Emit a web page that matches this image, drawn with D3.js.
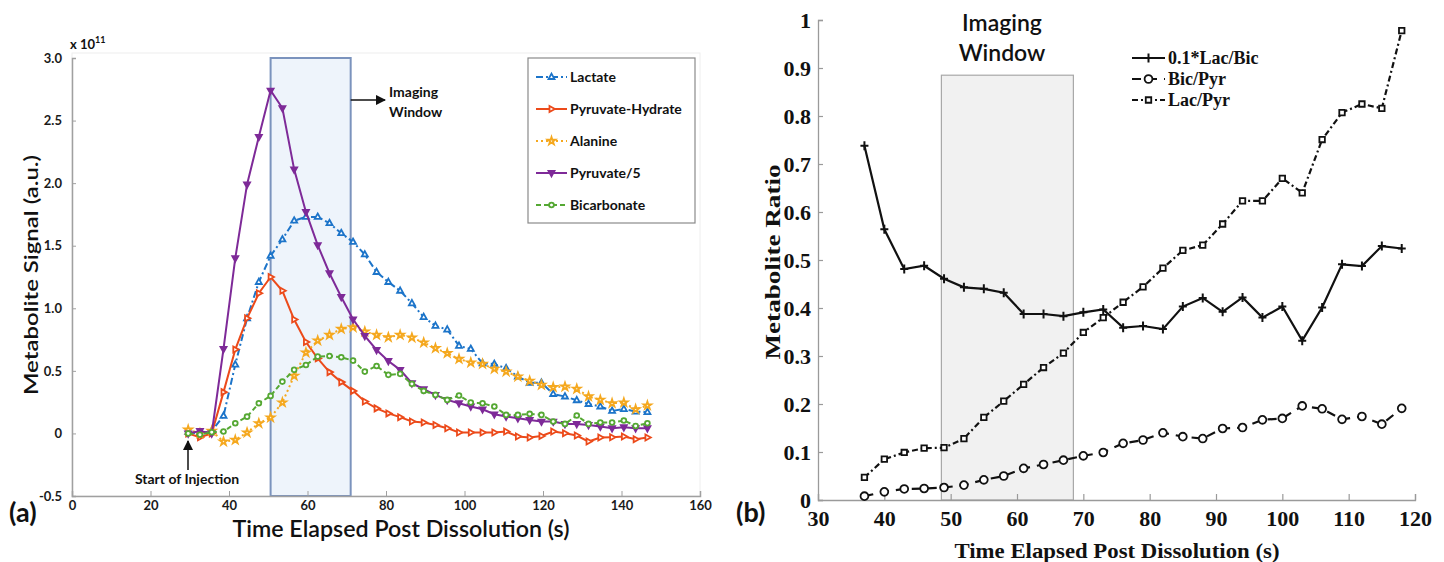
<!DOCTYPE html>
<html>
<head>
<meta charset="utf-8">
<script src="https://cdn.jsdelivr.net/npm/d3@7"></script>
<style>
  html, body { margin: 0; padding: 0; background: #fff; }
  svg { display: block; }
</style>
</head>
<body>
<div id="chart"></div>
<script>
/* ---- Panel (a): metabolite signals, x 10^11 a.u. ---- */
const TIME_A = [29.6, 32.6, 35.6, 38.6, 41.6, 44.6, 47.6, 50.6, 53.6, 56.6,
  59.6, 62.6, 65.6, 68.6, 71.6, 74.6, 77.6, 80.6, 83.6, 86.6,
  89.6, 92.6, 95.6, 98.6, 101.6, 104.6, 107.6, 110.6, 113.6, 116.6,
  119.6, 122.6, 125.6, 128.6, 131.6, 134.6, 137.6, 140.6, 143.6, 146.6];

const LACTATE = [0.01, 0.0, 0.02, 0.14, 0.55, 0.92, 1.21, 1.42, 1.55, 1.70,
  1.73, 1.73, 1.68, 1.60, 1.53, 1.43, 1.29, 1.21, 1.14, 1.04,
  0.93, 0.86, 0.83, 0.70, 0.675, 0.56, 0.555, 0.52, 0.455, 0.405,
  0.405, 0.315, 0.295, 0.265, 0.235, 0.215, 0.18, 0.195, 0.175, 0.17];

const PYR_HYDRATE = [0.0, -0.03, 0.0, 0.33, 0.67, 0.92, 1.12, 1.25, 1.14, 0.91,
  0.73, 0.60, 0.49, 0.41, 0.34, 0.255, 0.20, 0.16, 0.13, 0.095,
  0.087, 0.068, 0.042, 0.007, 0.007, 0.007, 0.007, 0.015, -0.025, -0.033,
  -0.02, 0.015, 0.002, -0.017, -0.065, -0.033, -0.03, -0.025, -0.046, -0.033];

const ALANINE = [0.03, 0.0, 0.02, -0.065, -0.052, 0.007, 0.081, 0.127, 0.247, 0.46,
  0.646, 0.742, 0.787, 0.835, 0.848, 0.814, 0.787, 0.768, 0.787, 0.766,
  0.726, 0.681, 0.641, 0.595, 0.566, 0.555, 0.516, 0.494, 0.454, 0.42,
  0.388, 0.369, 0.374, 0.356, 0.295, 0.268, 0.241, 0.247, 0.193, 0.223];

const PYRUVATE_5 = [0.0, 0.02, 0.0, 0.675, 1.40, 1.99, 2.37, 2.74, 2.60, 2.11,
  1.77, 1.505, 1.28, 1.09, 0.912, 0.779, 0.667, 0.579, 0.508, 0.401,
  0.353, 0.308, 0.268, 0.241, 0.215, 0.193, 0.153, 0.135, 0.121, 0.108,
  0.095, 0.095, 0.076, 0.076, 0.068, 0.055, 0.042, 0.05, 0.042, 0.042];

const BICARBONATE = [0.0, -0.01, 0.01, 0.015, 0.081, 0.134, 0.241, 0.30, 0.414, 0.508,
  0.547, 0.614, 0.619, 0.609, 0.582, 0.494, 0.539, 0.468, 0.476, 0.396,
  0.34, 0.308, 0.268, 0.303, 0.247, 0.241, 0.215, 0.148, 0.148, 0.156,
  0.148, 0.095, 0.076, 0.143, 0.076, 0.087, 0.087, 0.103, 0.06, 0.081];

const SERIES_A_NAMES = ['Lactate', 'Pyruvate-Hydrate', 'Alanine', 'Pyruvate/5', 'Bicarbonate'];
const X_TICKS_A = [0, 20, 40, 60, 80, 100, 120, 140, 160];
const Y_TICKS_A = [-0.5, 0, 0.5, 1.0, 1.5, 2.0, 2.5, 3.0];
const WINDOW_A = [50.6, 71];

/* ---- Panel (b): metabolite ratios ---- */
const TIME_B = [37, 40, 43, 46, 49, 52, 55, 58, 61, 64, 67, 70, 73, 76,
  79, 82, 85, 88, 91, 94, 97, 100, 103, 106, 109, 112, 115, 118];

const LAC_BIC = [0.738, 0.564, 0.481, 0.488, 0.461, 0.443, 0.44, 0.432, 0.3875, 0.3875,
  0.383, 0.391, 0.397, 0.359, 0.3625, 0.356, 0.403, 0.421, 0.392, 0.422,
  0.38, 0.403, 0.332, 0.401, 0.491, 0.4875, 0.529, 0.524];

const BIC_PYR = [0.008, 0.017, 0.023, 0.024, 0.026, 0.031, 0.042, 0.05, 0.066, 0.074,
  0.083, 0.092, 0.099, 0.118, 0.125, 0.14, 0.132, 0.128, 0.149, 0.151,
  0.167, 0.17, 0.196, 0.19, 0.168, 0.174, 0.158, 0.191];

const LAC_PYR = [0.047, 0.085, 0.099, 0.108, 0.109, 0.128, 0.172, 0.206, 0.241, 0.276,
  0.306, 0.349, 0.38, 0.412, 0.444, 0.483, 0.52, 0.531, 0.575, 0.623,
  0.623, 0.67, 0.64, 0.751, 0.807, 0.825, 0.816, 0.978];

const SERIES_B_NAMES = ['0.1*Lac/Bic', 'Bic/Pyr', 'Lac/Pyr'];
const X_TICKS_B = [30, 40, 50, 60, 70, 80, 90, 100, 110, 120];
const Y_TICKS_B = [0, 0.1, 0.2, 0.3, 0.4, 0.5, 0.6, 0.7, 0.8, 0.9, 1];
const WINDOW_B = [48.6, 68.5, 0.885];

(function () {
  'use strict';

  const W = 1444, H = 562;
  const SANS = 'Lato, "Open Sans", sans-serif';
  const SERIF = '"Liberation Serif", "Times New Roman", serif';

  const svg = d3.select('#chart').append('svg')
    .attr('width', W).attr('height', H)
    .attr('viewBox', `0 0 ${W} ${H}`);

  const defs = svg.append('defs');
  defs.append('marker')
    .attr('id', 'arrowHead')
    .attr('viewBox', '0 0 10 10')
    .attr('refX', 9).attr('refY', 5)
    .attr('markerWidth', 7).attr('markerHeight', 7)
    .attr('orient', 'auto-start-reverse')
    .append('path').attr('d', 'M0,0L10,5L0,10z').attr('fill', '#111');

  // text helper; len stretches the string to a measured width
  const txt = (x, y, s, size, weight, anchor, fam, len) => {
    const t = svg.append('text')
      .attr('x', x).attr('y', y).attr('text-anchor', anchor || 'start')
      .style('font-family', fam || SANS).style('font-size', size + 'px')
      .style('font-weight', weight).attr('fill', '#111').text(s);
    if (len) t.attr('textLength', len).attr('lengthAdjust', 'spacingAndGlyphs');
    return t;
  };

  /* ============================================================
     PANEL (a)
  ============================================================ */
  const xA = d3.scaleLinear().domain([0, 160]).range([72, 700]);
  const yA = d3.scaleLinear().domain([-0.5, 3.0]).range([496, 58]);

  const styleA = [
    { name: SERIES_A_NAMES[0], values: LACTATE,     color: '#1c74c9', dash: '7,3,2,3', sym: 'triUp',    fill: '#fff' },
    { name: SERIES_A_NAMES[1], values: PYR_HYDRATE, color: '#ec4a1a', dash: null,      sym: 'triRight', fill: '#fff' },
    { name: SERIES_A_NAMES[2], values: ALANINE,     color: '#f5a81e', dash: '2,3',     sym: 'star',     fill: '#fff' },
    { name: SERIES_A_NAMES[3], values: PYRUVATE_5,  color: '#7e2a98', dash: null,      sym: 'triDown',  fill: '#7e2a98' },
    { name: SERIES_A_NAMES[4], values: BICARBONATE, color: '#55a833', dash: '5,3',     sym: 'circle',   fill: '#fff' },
  ];

  // faint panel frame
  svg.append('rect')
    .attr('x', 72).attr('y', 53).attr('width', 628).attr('height', 443)
    .attr('fill', 'none').attr('stroke', '#eeeeee').attr('stroke-width', 1);

  // imaging window
  svg.append('rect')
    .attr('x', xA(WINDOW_A[0])).attr('y', yA(3.0))
    .attr('width', xA(WINDOW_A[1]) - xA(WINDOW_A[0]))
    .attr('height', yA(-0.5) - yA(3.0))
    .attr('fill', '#eef4fb').attr('stroke', '#7b93bd').attr('stroke-width', 2);

  // axes
  const gxA = svg.append('g').attr('transform', `translate(0,${yA(-0.5)})`)
    .call(d3.axisBottom(xA).tickValues(X_TICKS_A).tickSize(-5).tickPadding(5).tickFormat(d => d));
  const gyA = svg.append('g').attr('transform', `translate(${xA(0)},0)`)
    .call(d3.axisLeft(yA).tickValues(Y_TICKS_A).tickSize(-4).tickPadding(10)
      .tickFormat(d => d === 0 ? '0' : (d < 0 ? '-' : '') + Math.abs(d).toFixed(1)));
  [gxA, gyA].forEach(g => {
    g.select('.domain').attr('stroke', '#a0a0a0').attr('stroke-width', 1.5);
    g.selectAll('.tick line').attr('stroke', '#a0a0a0');
    g.selectAll('.tick text')
      .attr('fill', '#1a1a1a').style('font-family', SANS)
      .style('font-size', '13px').style('font-weight', 700);
  });

  // lines + markers
  const symPath = {
    triUp:    'M0,-3.4L3,2L-3,2Z',
    triDown:  'M0,3.4L3,-2L-3,-2Z',
    triRight: 'M3.4,0L-2,3L-2,-3Z',
    star:     d3.symbol(d3.symbolStar, 18)(),
    circle:   d3.symbol(d3.symbolCircle, 18)(),
  };

  const lineA = d3.line().x(d => xA(d[0])).y(d => yA(d[1]));
  const plotA = svg.append('g');
  styleA.forEach(s => {
    const pts = TIME_A.map((t, i) => [t, s.values[i]]);
    plotA.append('path')
      .datum(pts)
      .attr('d', lineA)
      .attr('fill', 'none')
      .attr('stroke', s.color)
      .attr('stroke-width', 2)
      .attr('stroke-dasharray', s.dash);
    plotA.append('g').selectAll('path')
      .data(pts).join('path')
      .attr('transform', d => `translate(${xA(d[0])},${yA(d[1])})`)
      .attr('d', symPath[s.sym])
      .attr('fill', s.fill)
      .attr('stroke', s.color)
      .attr('stroke-width', 1.8);
  });

  // legend (a)
  const legA = svg.append('g');
  legA.append('rect')
    .attr('x', 528).attr('y', 58).attr('width', 167).attr('height', 165)
    .attr('fill', '#fff').attr('stroke', '#8a8a8a').attr('stroke-width', 1.2);
  styleA.forEach((s, i) => {
    const y = 77 + i * 32;
    legA.append('line')
      .attr('x1', 536).attr('x2', 567).attr('y1', y).attr('y2', y)
      .attr('stroke', s.color).attr('stroke-width', 2)
      .attr('stroke-dasharray', s.dash);
    legA.append('path')
      .attr('transform', `translate(551.5,${y})`)
      .attr('d', symPath[s.sym])
      .attr('fill', s.fill).attr('stroke', s.color).attr('stroke-width', 1.8);
    legA.append('text')
      .attr('x', 570).attr('y', y + 5)
      .style('font-family', SANS).style('font-size', '14px').style('font-weight', 700)
      .attr('fill', '#111')
      .text(s.name);
  });

  // annotations (a)
  const expo = txt(70, 49, 'x 10', 13, 700);
  expo.append('tspan').attr('dy', -6).style('font-size', '9px').text('11');

  svg.append('line')
    .attr('x1', xA(WINDOW_A[1])).attr('x2', 385).attr('y1', 100).attr('y2', 100)
    .attr('stroke', '#111').attr('stroke-width', 1.5).attr('marker-end', 'url(#arrowHead)');
  txt(389, 97, 'Imaging', 14, 700);
  txt(389, 117, 'Window', 14, 700);

  svg.append('line')
    .attr('x1', 188).attr('x2', 188).attr('y1', 470).attr('y2', 441)
    .attr('stroke', '#111').attr('stroke-width', 1.5).attr('marker-end', 'url(#arrowHead)');
  txt(187, 484, 'Start of Injection', 14, 700, 'middle');

  txt(401, 537, 'Time Elapsed Post Dissolution (s)', 22, 600, 'middle', SANS, 337);
  svg.append('text')
    .attr('transform', 'translate(38,275) rotate(-90)')
    .attr('text-anchor', 'middle')
    .attr('textLength', 240).attr('lengthAdjust', 'spacingAndGlyphs')
    .style('font-family', SANS).style('font-size', '20px').style('font-weight', 600)
    .attr('fill', '#111').text('Metabolite Signal (a.u.)');
  txt(9, 522, '(a)', 27, 700);

  /* ============================================================
     PANEL (b)
  ============================================================ */
  const xB = d3.scaleLinear().domain([30, 120]).range([818, 1415]);
  const yB = d3.scaleLinear().domain([0, 1]).range([500, 20]);

  svg.append('rect')
    .attr('x', xB(WINDOW_B[0])).attr('y', yB(WINDOW_B[2]))
    .attr('width', xB(WINDOW_B[1]) - xB(WINDOW_B[0]))
    .attr('height', yB(0) - yB(WINDOW_B[2]))
    .attr('fill', '#f1f1f1').attr('stroke', '#a8a8a8').attr('stroke-width', 1.2);

  const gxB = svg.append('g').attr('transform', `translate(0,${yB(0)})`)
    .call(d3.axisBottom(xB).tickValues(X_TICKS_B).tickSize(-6).tickPadding(10).tickFormat(d => d));
  const gyB = svg.append('g').attr('transform', `translate(${xB(30)},0)`)
    .call(d3.axisLeft(yB).tickValues(Y_TICKS_B).tickSize(-5).tickPadding(7)
      .tickFormat(d => d === 0 || d === 1 ? String(d) : d.toFixed(1)));
  [gxB, gyB].forEach(g => {
    g.select('.domain').attr('stroke', '#9a9a9a').attr('stroke-width', 1.3);
    g.selectAll('.tick line').attr('stroke', '#9a9a9a').attr('stroke-width', 1.2);
    g.selectAll('.tick text')
      .attr('fill', '#111').style('font-family', SERIF)
      .style('font-size', '22px').style('font-weight', 700);
  });

  const plus = 'M-4,0H4M0,-4.5V4.5';
  const styleB = [
    { name: SERIES_B_NAMES[0], values: LAC_BIC, dash: null,      sym: plus, fill: 'none', mstroke: 2 },
    { name: SERIES_B_NAMES[1], values: BIC_PYR, dash: '9,7',     sym: d3.symbol(d3.symbolCircle, 48)(), fill: '#fff', mstroke: 1.8 },
    { name: SERIES_B_NAMES[2], values: LAC_PYR, dash: '6,3,2,3', sym: d3.symbol(d3.symbolSquare, 30)(), fill: '#fff', mstroke: 1.8 },
  ];

  const lineB = d3.line().x(d => xB(d[0])).y(d => yB(d[1]));
  styleB.forEach(s => {
    const pts = TIME_B.map((t, i) => [t, s.values[i]]);
    svg.append('path')
      .datum(pts).attr('d', lineB)
      .attr('fill', 'none').attr('stroke', '#111')
      .attr('stroke-width', 2.2).attr('stroke-dasharray', s.dash);
    svg.append('g').selectAll('path')
      .data(pts).join('path')
      .attr('transform', d => `translate(${xB(d[0])},${yB(d[1])})`)
      .attr('d', s.sym)
      .attr('fill', s.fill).attr('stroke', '#111').attr('stroke-width', s.mstroke);
  });

  // legend (b)
  styleB.forEach((s, i) => {
    const y = 58 + i * 21;
    svg.append('line')
      .attr('x1', 1132).attr('x2', 1165).attr('y1', y).attr('y2', y)
      .attr('stroke', '#111').attr('stroke-width', 2.2).attr('stroke-dasharray', s.dash);
    svg.append('path')
      .attr('transform', `translate(1148.5,${y})`)
      .attr('d', s.sym)
      .attr('fill', s.fill).attr('stroke', '#111').attr('stroke-width', s.mstroke);
    txt(1168, y + 6, s.name, 18, 700, 'start', SERIF);
  });

  txt(1002, 31, 'Imaging', 23, 600, 'middle');
  txt(1002, 61, 'Window', 23, 600, 'middle');

  txt(1117, 558, 'Time Elapsed Post Dissolution (s)', 21, 700, 'middle', SERIF, 325);
  svg.append('text')
    .attr('transform', 'translate(780,262) rotate(-90)')
    .attr('text-anchor', 'middle')
    .attr('textLength', 195).attr('lengthAdjust', 'spacingAndGlyphs')
    .style('font-family', SERIF).style('font-size', '22px').style('font-weight', 700)
    .attr('fill', '#111').text('Metabolite Ratio');
  txt(736, 522, '(b)', 27, 700);
})();
</script>
</body>
</html>
